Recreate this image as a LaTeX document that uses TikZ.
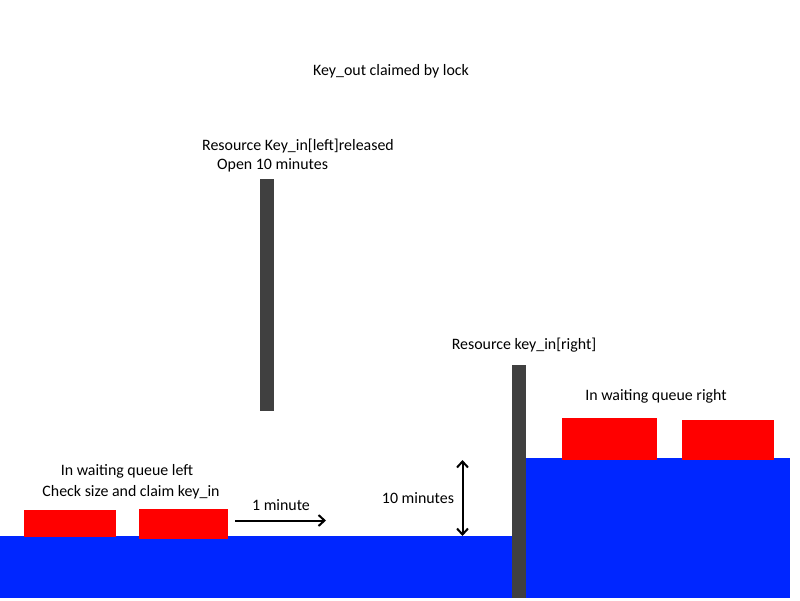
\documentclass[tikz,border=0pt]{standalone}
\usepackage{fontspec}
\setmainfont{Carlito}
\usetikzlibrary{arrows.meta}
\definecolor{water}{HTML}{0026FF}
\definecolor{car}{HTML}{FF0000}
\definecolor{pole}{HTML}{404040}
\begin{document}
\begin{tikzpicture}[x=1pt,y=-1pt,
  lbl/.style={inner sep=0pt,font=\fontsize{15.9}{19}\selectfont},
  arr/.style={-{Straight Barb[length=6pt,width=11pt]},line width=2pt}]
\useasboundingbox (0,0) rectangle (800,600);
% water
\fill[water] (0,536) rectangle (512,598);
\fill[water] (526,458) rectangle (790,598);
% poles
\fill[pole] (260,179) rectangle (274,411);
\fill[pole] (512,365) rectangle (526,598);
% cars
\fill[car] (24,510) rectangle (116,537);
\fill[car] (139,509) rectangle (228,539);
\fill[car] (562,418) rectangle (657,460);
\fill[car] (682,420) rectangle (774,460);
% arrows
\coordinate (a1) at (235,520.5);
\coordinate (a2) at (326,520.5);
\draw[arr] (a1) -- (a2);
\coordinate (b1) at (462.5,460);
\coordinate (b2) at (462.5,536);
\draw[line width=2pt,{Straight Barb[length=6pt,width=11pt]}-{Straight Barb[length=6pt,width=11pt]}] (b1) -- (b2);
% labels
\node[lbl] (t1) at (391,71) {Key\_out claimed by lock};
\node[lbl,anchor=west] (t2) at (202,146) {Resource Key\_in[left]released};
\node[lbl,anchor=west] (t3) at (217,165) {Open 10 minutes};
\node[lbl] (t4) at (524,345) {Resource key\_in[right]};
\node[lbl] (t5) at (656,396) {In waiting queue right};
\node[lbl] (t6) at (127,471) {In waiting queue left};
\node[lbl] (t7) at (131,492) {Check size and claim key\_in};
\node[lbl] (t8) at (281,505) {1 minute};
\node[lbl] (t9) at (418,498) {10 minutes};
\end{tikzpicture}
\end{document}
